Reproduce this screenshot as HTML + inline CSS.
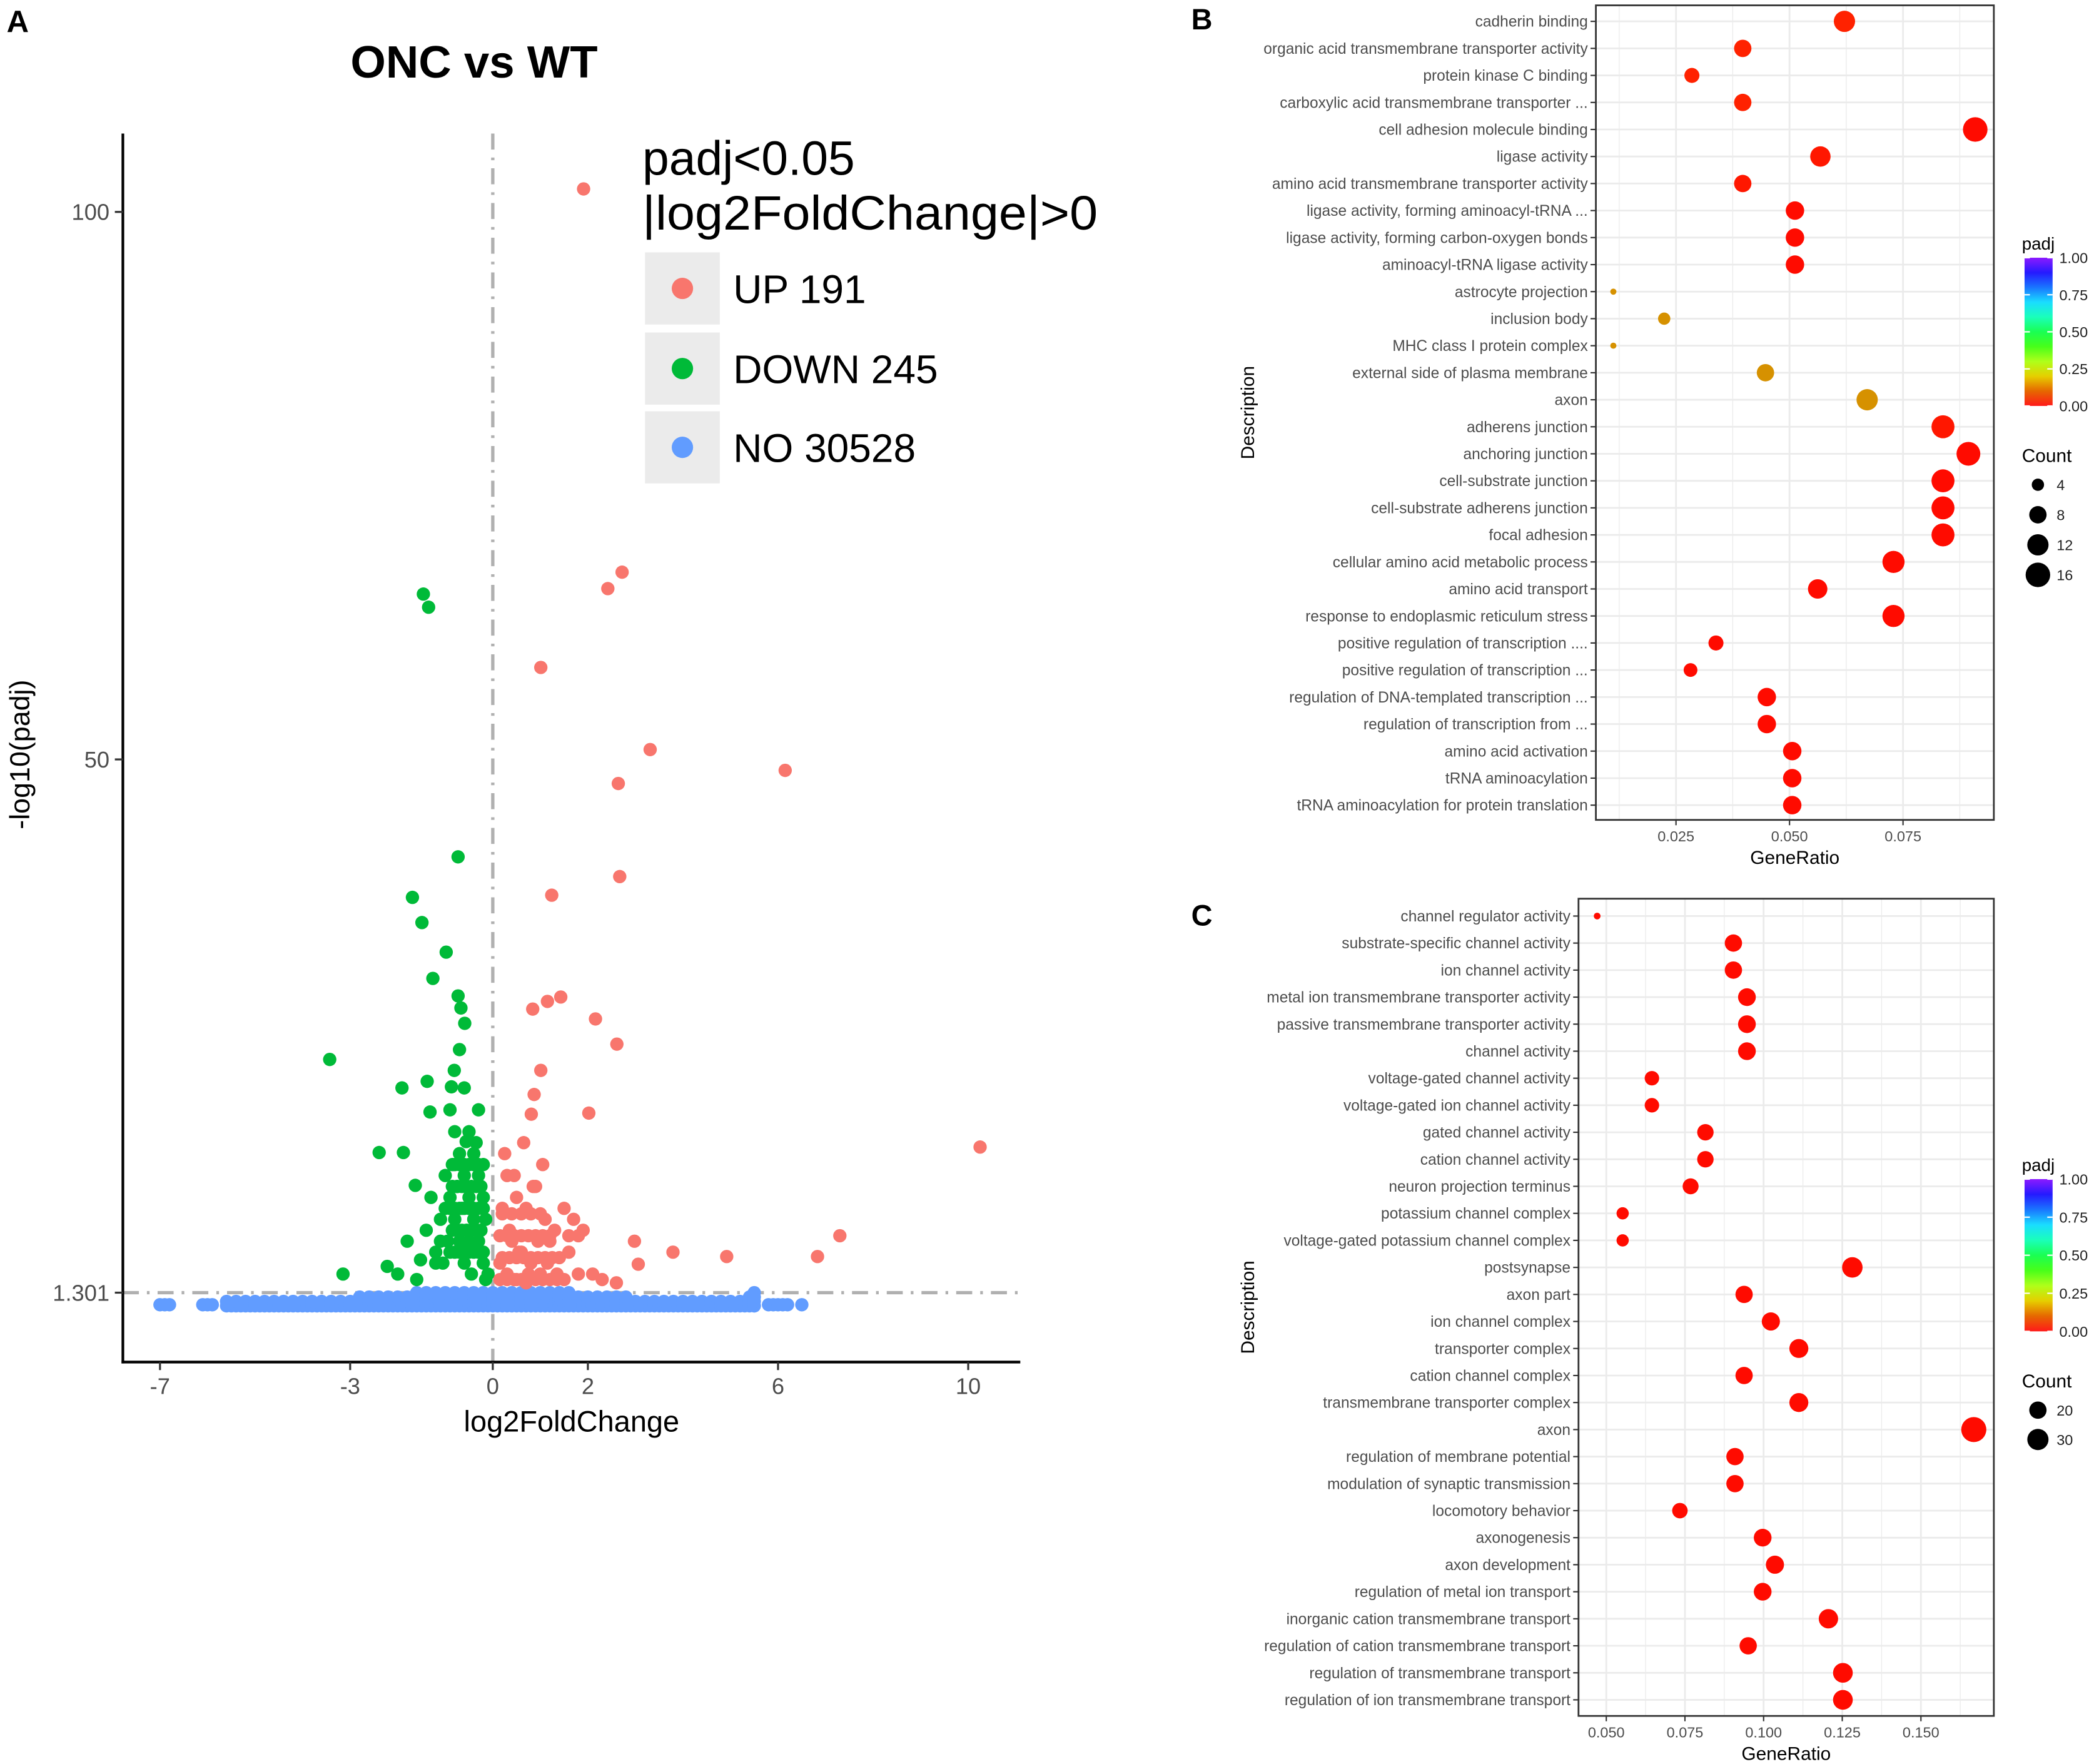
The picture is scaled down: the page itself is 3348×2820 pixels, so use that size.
<!DOCTYPE html>
<html><head><meta charset="utf-8"><style>
html,body{margin:0;padding:0;background:#fff}
svg{display:block}
text{font-family:"Liberation Sans",sans-serif}
</style></head><body>
<svg id="fig" xmlns="http://www.w3.org/2000/svg" width="3348" height="2820" viewBox="0 0 1568 1321" preserveAspectRatio="none">
<rect width="1568" height="1321" fill="#fff"/>
<g id="A"></g>
<g id="B"></g>
<g id="C"></g>
</svg>
<script>
// ---- Volcano data ----
const xTicks=[-7,-3,0,2,6,10];
const yTicks=[100,50,1.301];
const upX=[1.91,2.72,2.42,1.01,3.31,6.15,2.64,2.67,1.24,1.43,1.15,0.84,2.16,2.61,1.01,0.87,0.81,2.02,10.25,7.30,6.83,4.92,3.79,2.98,3.06,0.3,0.5,0.7,0.9,1.1,1.3,0.4,0.6,0.8,1.0,1.2,1.5,1.7,0.2,0.35,0.55,0.75,0.95,1.15,1.35,1.6,1.8,2.3,2.6,0.25,0.45,0.65,0.85,1.05,1.9,2.1,0.15,0.3,0.5,0.7,
0.15,0.3,0.45,0.6,0.75,0.9,1.05,1.2,1.35,1.5,0.2,0.35,0.5,0.65,0.8,0.95,1.1,1.25,1.4,0.15,0.3,0.45,0.6,0.75,0.9,1.05,1.2,1.6,1.8,0.2,0.4,0.6,0.8,1.0];
const upY=[102.1,67.1,65.6,58.4,50.9,49.0,47.8,39.3,37.6,28.3,27.9,27.2,26.3,24.0,21.6,19.4,17.6,17.7,14.6,6.5,4.6,4.6,5.0,6.0,3.9,12,10,9,11,8,7,6,5,4,3,6,9,8,9,7,5,3,6,4,3,5,3,2.5,2.2,14,12,15,11,13,7,3,4,3,2.5,2.2,
2.5,2.5,2.5,2.5,2.5,2.5,2.5,2.5,2.5,2.5,4.5,4.5,4.5,4.5,4.5,4.5,4.5,4.5,4.5,6.5,6.5,6.5,6.5,6.5,6.5,6.5,6.5,6.5,6.5,8.5,8.5,8.5,8.5,8.5];
const downX=[-1.46,-1.35,-0.73,-1.69,-1.49,-0.98,-1.26,-0.73,-0.67,-0.59,-3.43,-0.70,-1.38,-1.91,-0.81,-1.32,-0.87,-2.39,-1.88,-0.56,-1.63,-3.15,-2.22,-1.52,-0.9,-0.8,-0.7,-0.6,-0.5,-0.4,-0.3,-0.2,-0.1,-0.9,-0.8,-0.7,-0.6,-0.5,-0.4,-0.3,-0.2,-0.5,-1.0,-1.1,-1.2,-0.95,-0.3,-0.6,-0.45,-0.85,-0.65,-0.35,-0.25,-0.75,-0.55,-1.05,-1.4,-1.8,-2.0,-0.15,
-0.2,-0.3,-0.4,-0.5,-0.6,-0.7,-0.8,-0.9,-0.25,-0.35,-0.45,-0.55,-0.65,-0.75,-0.85,-0.2,-0.3,-0.4,-0.5,-0.6,-0.7,-0.8,-0.9,-0.25,-0.35,-0.45,-0.55,-0.65,-0.75,-0.85,-0.15,-0.2,-0.3,-0.4,-0.5,-0.6,-0.7,-0.8,-1.0,-1.1,-1.2,-1.3,-1.6];
const downY=[65.1,63.9,41.1,37.4,35.1,32.4,30.0,28.4,27.3,25.9,22.6,23.5,20.6,20.0,21.6,17.8,20.1,14.1,14.1,15.1,11.1,3.0,3.7,4.3,18,16,14,12,10,8,6,4,3,10,8,6,4,16,14,12,10,6,12,8,5,6,18,20,3,13,9,15,7,11,7,4,7,6,3,8,
5,5,5,5,5,5,5,5,7,7,7,7,7,7,7,9,9,9,9,9,9,9,9,11,11,11,11,11,11,11,2.5,13,13,13,13,13,13,13,9,6,4,10,2.5];
const noX=[-7.0,-6.8,-6.1,-5.9,-5.6,-5.4,-5.2,-5.0,-4.8,-4.6,-4.4,-4.2,-4.0,-3.8,-3.6,-3.4,-3.2,-3.0,-2.8,-2.6,-2.4,-2.2,-2.0,-1.8,-1.6,-1.4,-1.2,-1.0,-0.8,-0.6,-0.4,-0.2,0.0,0.2,0.4,0.6,0.8,1.0,1.2,1.4,1.6,1.8,2.0,2.2,2.4,2.6,2.8,3.0,3.2,3.4,3.6,3.8,4.0,4.2,4.4,4.6,4.8,5.0,5.2,5.4,5.5,5.8,6.0,6.2,6.5];
const noLowY=[0.2,0.2,0.2,0.2,0.1,0.1,0.1,0.1,0.1,0.1,0.1,0.1,0.1,0.1,0.1,0.1,0.1,0.1,0.1,0.1,0.1,0.1,0.1,0.1,0.1,0.1,0.1,0.1,0.1,0.1,0.1,0.1,0.1,0.1,0.1,0.1,0.1,0.1,0.1,0.1,0.1,0.1,0.1,0.1,0.1,0.1,0.1,0.1,0.1,0.1,0.1,0.1,0.1,0.1,0.1,0.1,0.1,0.1,0.1,0.1,0.1,0.2,0.2,0.2,0.2];
const noHighY=[0.2,0.2,0.2,0.2,0.6,0.6,0.6,0.6,0.6,0.6,0.6,0.6,0.6,0.6,0.8,0.8,0.8,0.8,0.9,0.9,1.0,1.2,1.2,1.2,1.3,1.3,1.3,1.4,1.4,1.4,1.4,1.4,1.4,1.4,1.4,1.4,1.4,1.4,1.3,1.3,1.3,1.2,1.2,1.1,1.0,0.9,0.9,0.8,0.8,0.7,0.7,0.7,0.6,0.6,0.6,0.6,0.6,0.6,0.6,0.9,1.4,0.2,0.2,0.2,0.2];

// ---- GO panel B data ----
const bTerms=["cadherin binding","organic acid transmembrane transporter activity","protein kinase C binding","carboxylic acid transmembrane transporter ...","cell adhesion molecule binding","ligase activity","amino acid transmembrane transporter activity","ligase activity, forming aminoacyl-tRNA ...","ligase activity, forming carbon-oxygen bonds","aminoacyl-tRNA ligase activity","astrocyte projection","inclusion body","MHC class I protein complex","external side of plasma membrane","axon","adherens junction","anchoring junction","cell-substrate junction","cell-substrate adherens junction","focal adhesion","cellular amino acid metabolic process","amino acid transport","response to endoplasmic reticulum stress","positive regulation of transcription ....","positive regulation of transcription ...","regulation of DNA-templated transcription ...","regulation of transcription from ...","amino acid activation","tRNA aminoacylation","tRNA aminoacylation for protein translation"];
const bRatio=[0.0621,0.0397,0.0285,0.0397,0.0909,0.0568,0.0397,0.0512,0.0512,0.0512,0.0112,0.0224,0.0112,0.0447,0.0671,0.0838,0.0894,0.0838,0.0838,0.0838,0.0729,0.0562,0.0729,0.0338,0.0282,0.045,0.045,0.0506,0.0506,0.0506];
const bCount=[12,8,6,8,16,11,8,9,9,9,1,4,1,8,12,14,15,14,14,14,13,10,13,6,5,9,9,9,9,9];
const bPadj=[0.03,0.03,0.03,0.03,0.01,0.02,0.02,0.01,0.01,0.01,0.15,0.15,0.15,0.15,0.15,0.02,0.01,0.01,0.01,0.01,0.01,0.01,0.01,0.01,0.01,0.01,0.01,0.01,0.01,0.01];
const bXTicks=[0.025,0.050,0.075];
const bCountLegend=[4,8,12,16];

// ---- GO panel C data ----
const cTerms=["channel regulator activity","substrate-specific channel activity","ion channel activity","metal ion transmembrane transporter activity","passive transmembrane transporter activity","channel activity","voltage-gated channel activity","voltage-gated ion channel activity","gated channel activity","cation channel activity","neuron projection terminus","potassium channel complex","voltage-gated potassium channel complex","postsynapse","axon part","ion channel complex","transporter complex","cation channel complex","transmembrane transporter complex","axon","regulation of membrane potential","modulation of synaptic transmission","locomotory behavior","axonogenesis","axon development","regulation of metal ion transport","inorganic cation transmembrane transport","regulation of cation transmembrane transport","regulation of transmembrane transport","regulation of ion transmembrane transport"];
const cRatio=[0.0471,0.0904,0.0904,0.0947,0.0947,0.0947,0.0645,0.0645,0.0815,0.0815,0.0768,0.0552,0.0552,0.1282,0.0938,0.1023,0.1112,0.0938,0.1112,0.1668,0.0909,0.0909,0.0734,0.0997,0.1036,0.0997,0.1206,0.0951,0.1252,0.1252];
const cCount=[3,20,20,21,21,21,14,14,18,18,17,10,10,28,20,22,24,20,24,42,20,20,16,21,22,21,25,20,26,26];
const cPadj=[0.01,0.01,0.01,0.01,0.01,0.01,0.01,0.01,0.01,0.01,0.01,0.01,0.01,0.01,0.01,0.01,0.01,0.01,0.01,0.01,0.01,0.01,0.01,0.01,0.01,0.01,0.01,0.01,0.01,0.01];
const cXTicks=[0.050,0.075,0.100,0.125,0.150];
const cCountLegend=[20,30];
const padjTicks=[1.00,0.75,0.50,0.25,0.00];

const NS="http://www.w3.org/2000/svg";
function mk(parent,tag,attrs,txt){const e=document.createElementNS(NS,tag);for(const k in attrs)e.setAttribute(k,attrs[k]);if(txt!==undefined)e.textContent=txt;parent.appendChild(e);return e;}
function padjColor(p){const h=p*270;return `hsl(${h},100%,${h>20?'42%':'50%'})`;}

// ===== Panel A =====
(function(){
const g=document.getElementById('A');
const sx=v=>369+v*35.6, sy=v=>978.7-v*8.2;
let t=mk(g,'text',{x:5,y:24,'font-size':23,'font-weight':'bold'},'A');

t=mk(g,'text',{x:355,y:58,'font-size':34,'font-weight':'bold','text-anchor':'middle'},'ONC vs WT');

let l=mk(g,'line',{x1:369,y1:100,x2:369,y2:1020,stroke:'#b0b0b0','stroke-width':2.5,'stroke-dasharray':'12 6 2 6'});

l=mk(g,'line',{x1:92,y1:sy(1.301),x2:763,y2:sy(1.301),stroke:'#b0b0b0','stroke-width':2.5,'stroke-dasharray':'12 6 2 6'});

const gn=mk(g,'g',{});
noX.forEach((x,i)=>{
 for(let y=noLowY[i];y<=noHighY[i]+0.001;y+=0.4){
  const c=mk(gn,'circle',{cx:sx(x),cy:sy(y),r:5,fill:'#619cff'});
  
 }
 if(i<noX.length-1 && noX[i+1]-x<=0.25){
  const c=mk(gn,'circle',{cx:sx(x+0.1),cy:sy(noLowY[i]),r:5,fill:'#619cff'});
  
 }
});
const gd=mk(g,'g',{});
downX.forEach((x,i)=>{const c=mk(gd,'circle',{cx:sx(x),cy:sy(downY[i]),r:5,fill:'#00ba38'});
 });
const gu=mk(g,'g',{});
upX.forEach((x,i)=>{const c=mk(gu,'circle',{cx:sx(x),cy:sy(upY[i]),r:5,fill:'#f8766d'});
 });
l=mk(g,'line',{x1:92,y1:100,x2:92,y2:1021,stroke:'#000','stroke-width':2});

l=mk(g,'line',{x1:91,y1:1020,x2:764,y2:1020,stroke:'#000','stroke-width':2});

xTicks.forEach(v=>{mk(g,'line',{x1:sx(v),y1:1020,x2:sx(v),y2:1026,stroke:'#333','stroke-width':1.5});
 const tt=mk(g,'text',{x:sx(v),y:1044,'font-size':17,fill:'#4d4d4d','text-anchor':'middle'},String(v));
 });
yTicks.forEach(v=>{mk(g,'line',{x1:86,y1:sy(v),x2:92,y2:sy(v),stroke:'#333','stroke-width':1.5});
 const tt=mk(g,'text',{x:82,y:sy(v)+6,'font-size':17,fill:'#4d4d4d','text-anchor':'end'},String(v));
 });
t=mk(g,'text',{x:428,y:1072,'font-size':22,'text-anchor':'middle'},'log2FoldChange');

t=mk(g,'text',{x:0,y:0,'font-size':21,'text-anchor':'middle',transform:'translate(22,565) rotate(-90)'},'-log10(padj)');

const lg=mk(g,'g',{});
t=mk(lg,'text',{x:481,y:131,'font-size':36},'padj<0.05');
t=mk(lg,'text',{x:481,y:172,'font-size':36,textLength:341,lengthAdjust:'spacingAndGlyphs'},'|log2FoldChange|>0');
[['UP 191','#f8766d',216,'legend-entry-up'],['DOWN 245','#00ba38',276,'legend-entry-down'],['NO 30528','#619cff',335,'legend-entry-no']].forEach(e=>{
 const eg=mk(lg,'g',{});
 mk(eg,'rect',{x:483,y:e[2]-27,width:56,height:54,fill:'#ebebeb'});
 mk(eg,'circle',{cx:511,cy:e[2],r:8,fill:e[1]});
 mk(eg,'text',{x:549,y:e[2]+11,'font-size':30},e[0]);
});
})();

// ===== Dot plots =====
function dotplot(gid,o){
 const g=document.getElementById(gid);
 const sx=v=>o.x0+v*o.kx, rowY=i=>o.top+i*o.step;
 let t=mk(g,'text',{x:892,y:o.letterY,'font-size':22,'font-weight':'bold'},o.letter);
 
 const pg=mk(g,'g',{});
 mk(pg,'rect',{x:o.L,y:o.T,width:o.R-o.L,height:o.B-o.T,fill:'#fff'});
 const ticks=o.ticks;const d=ticks[1]-ticks[0];
 for(let v=ticks[0]-d*1.5;v<=ticks[ticks.length-1]+d*1.5;v+=d/2){
  const x=sx(v);if(x<=o.L||x>=o.R)continue;
  const fr=Math.abs(((v-ticks[0])/d)%1);
  mk(pg,'line',{x1:x,y1:o.T,x2:x,y2:o.B,stroke:'#ebebeb','stroke-width':fr<0.01||fr>0.99?1.3:0.6});
 }
 o.terms.forEach((s,i)=>mk(pg,'line',{x1:o.L,y1:rowY(i),x2:o.R,y2:rowY(i),stroke:'#ebebeb','stroke-width':1.3}));
 o.terms.forEach((s,i)=>{
  const c=mk(pg,'circle',{cx:sx(o.ratio[i]),cy:rowY(i),r:o.rk*Math.sqrt(o.count[i]),fill:padjColor(o.padj[i])});
  
  
  const tl=mk(g,'text',{x:o.L-6,y:rowY(i)+4,'font-size':11.5,fill:'#4d4d4d','text-anchor':'end'},s);
  
  mk(g,'line',{x1:o.L-4,y1:rowY(i),x2:o.L,y2:rowY(i),stroke:'#333','stroke-width':1});
 });
 mk(pg,'rect',{x:o.L,y:o.T,width:o.R-o.L,height:o.B-o.T,fill:'none',stroke:'#333','stroke-width':1.3});
 ticks.forEach(v=>{mk(g,'line',{x1:sx(v),y1:o.B,x2:sx(v),y2:o.B+4,stroke:'#333','stroke-width':1});
  const tt=mk(g,'text',{x:sx(v),y:o.B+16,'font-size':11,fill:'#4d4d4d','text-anchor':'middle'},v.toFixed(3));
  });
 t=mk(g,'text',{x:(o.L+o.R)/2,y:o.B+33,'font-size':14,'text-anchor':'middle'},'GeneRatio');
 
 t=mk(g,'text',{x:0,y:0,'font-size':14,'text-anchor':'middle',transform:`translate(939,${(o.T+o.B)/2}) rotate(-90)`},'Description');
 
 const lg=mk(g,'g',{});
 mk(lg,'text',{x:1514,y:o.cbTop-6,'font-size':13},'padj');
 const gid2='grad'+gid;
 const defs=mk(lg,'defs',{});const lgd=mk(defs,'linearGradient',{id:gid2,x1:0,y1:1,x2:0,y2:0});
 [0,0.1,0.2,0.3,0.4,0.5,0.6,0.7,0.8,0.9,1].forEach(p=>mk(lgd,'stop',{offset:p,'stop-color':`hsl(${p*270},100%,${p*270>20&&p*270<60?'45%':'55%'})`}));
 const cbH=o.cbBot-o.cbTop;
 mk(lg,'rect',{x:1516,y:o.cbTop,width:21,height:cbH,fill:`url(#${gid2})`});
 padjTicks.forEach(p=>{const y=o.cbBot-p*cbH;
  mk(lg,'line',{x1:1516,y1:y,x2:1520,y2:y,stroke:'#fff'});mk(lg,'line',{x1:1533,y1:y,x2:1537,y2:y,stroke:'#fff'});
  mk(lg,'text',{x:1542,y:y+4,'font-size':11,fill:'#222'},p.toFixed(2));});
 const cg=mk(g,'g',{});
 mk(cg,'text',{x:1514,y:o.cntTitle,'font-size':14},'Count');
 o.cntLeg.forEach((c,i)=>{const y=o.cntTitle+17+i*o.cntStep;
  mk(cg,'circle',{cx:1526,cy:y,r:o.rk*Math.sqrt(c),fill:'#000'});
  mk(cg,'text',{x:1540,y:y+4,'font-size':11,fill:'#222'},String(c));});
}
dotplot('B',{letter:'B',letterY:22,L:1195,R:1493,T:4,B:614,top:16,step:20.24,x0:1170,kx:3400,ticks:bXTicks,terms:bTerms,ratio:bRatio,count:bCount,padj:bPadj,rk:2.3,cbTop:193,cbBot:304,cntTitle:346,cntStep:22.5,cntLeg:bCountLegend});
dotplot('C',{letter:'C',letterY:693,L:1182,R:1493,T:673,B:1285,top:686,step:20.24,x0:1085,kx:2356,ticks:cXTicks,terms:cTerms,ratio:cRatio,count:cCount,padj:cPadj,rk:1.45,cbTop:883,cbBot:997,cntTitle:1039,cntStep:22,cntLeg:cCountLegend});
</script>
</body></html>
